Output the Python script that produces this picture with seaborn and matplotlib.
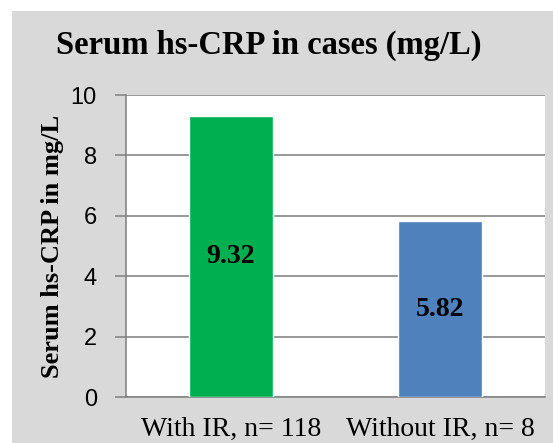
import matplotlib
matplotlib.use("Agg")
import matplotlib.pyplot as plt
import seaborn as sns
import pandas as pd
from matplotlib.patches import Rectangle

# --- Data ---
groups = ["With IR, n= 118", "Without IR, n= 8"]
crp_values = [9.32, 5.82]
bar_colors = ["#00B050", "#4F81BD"]

df = pd.DataFrame({"group": groups, "crp": crp_values})

sns.set_theme(style="white")
plt.rcParams["font.family"] = ["Liberation Serif", "DejaVu Serif"]
plt.rcParams["text.color"] = "black"
plt.rcParams["axes.labelcolor"] = "black"

W, H = 553, 443
fig = plt.figure(figsize=(W / 100, H / 100), dpi=100)
fig.patch.set_facecolor("white")

# light gray chart panel behind everything
panel = Rectangle((12 / W, 0), 1 - 12 / W, 1 - 11 / H,
                  transform=fig.transFigure, facecolor="#D9D9D9",
                  edgecolor="none", zorder=-10)
fig.add_artist(panel)

ax = fig.add_axes([126 / W, 1 - 397 / H, (545 - 126) / W, (397 - 95) / H])
ax.set_facecolor("white")

sns.barplot(data=df, x="group", y="crp", hue="group", palette=bar_colors,
            width=0.4, saturation=1, legend=False, ax=ax, zorder=3)

ax.set_ylim(0, 10)
ax.set_yticks([0, 2, 4, 6, 8, 10])
ax.yaxis.grid(True, color="#868686", linewidth=1.2, zorder=0)
ax.set_axisbelow(True)
for side in ["top", "right"]:
    ax.spines[side].set_visible(False)
ax.spines["left"].set_color("#868686")
ax.spines["bottom"].set_color("#868686")
ax.spines["left"].set_linewidth(1.2)
ax.spines["bottom"].set_linewidth(1.2)
ax.tick_params(axis="y", left=True, length=8, width=1.2, color="#868686",
               labelcolor="black", labelsize=17, pad=13)
ax.tick_params(axis="x", bottom=False, labelcolor="black", labelsize=20, pad=8)
for lbl in ax.get_yticklabels():
    lbl.set_family("Liberation Sans")

ax.set_xlabel("")
ax.set_ylabel("Serum hs-CRP in mg/L", fontsize=19, fontweight="bold",
              labelpad=5, color="black")

for i, v in enumerate(crp_values):
    ax.text(i, v / 2, f"{v:.2f}", ha="center", va="center",
            fontsize=20, fontweight="bold", color="black", zorder=4)

fig.text(268.5 / W, 1 - 45 / H, "Serum hs-CRP in cases (mg/L)",
         ha="center", va="center", fontsize=23.5, fontweight="bold", color="black")

fig.savefig("out.png", dpi=100)
